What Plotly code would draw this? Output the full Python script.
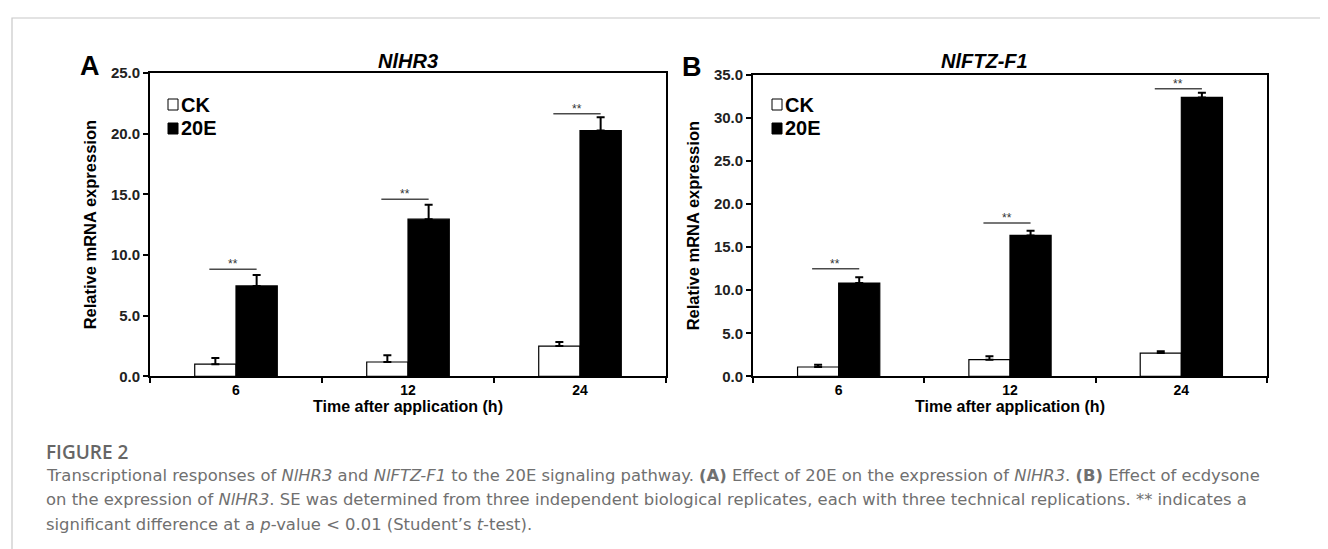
import plotly.graph_objects as go

W, H = 1328, 549

# ---------------- data ----------------
times = ["6", "12", "24"]

hr3_ck = [1.0, 1.18, 2.49]
hr3_ck_err = [0.5, 0.55, 0.33]
hr3_20e = [7.45, 12.95, 20.26]
hr3_20e_err = [0.9, 1.2, 1.1]
hr3_sig_y = [8.83, 14.6, 21.65]

ftz_ck = [1.08, 1.93, 2.7]
ftz_ck_err = [0.27, 0.39, 0.2]
ftz_20e = [10.83, 16.36, 32.4]
ftz_20e_err = [0.67, 0.54, 0.55]
ftz_sig_y = [12.5, 17.8, 33.4]

sig_label = "**"
series_names = ["CK", "20E"]
y_title = "Relative mRNA expression"
x_title = "Time after application (h)"

# ---------------- helpers ----------------
def px_x(p):
    return p / W

def px_y(p):
    return (H - p) / H

CHART_FONT = "Liberation Sans, Arial, sans-serif"

fig = go.Figure()

panels = [
    dict(ck=hr3_ck, ck_err=hr3_ck_err, e=hr3_20e, e_err=hr3_20e_err, sig=hr3_sig_y,
         xa="x", ya="y", yrange=[0, 25], dtick=5,
         dom_x=[142, 658], dom_y=[65, 368.3], leg_x=160),
    dict(ck=ftz_ck, ck_err=ftz_ck_err, e=ftz_20e, e_err=ftz_20e_err, sig=ftz_sig_y,
         xa="x2", ya="y2", yrange=[0, 35], dtick=5,
         dom_x=[745, 1259], dom_y=[67, 368.3], leg_x=764),
]

for i, p in enumerate(panels):
    fig.add_trace(go.Bar(
        x=times, y=p["ck"], name=series_names[0],
        marker=dict(color="white", line=dict(color="black", width=1.2)),
        error_y=dict(type="data", array=p["ck_err"], arrayminus=[0] * 3, symmetric=False,
                     color="black", thickness=2, width=4),
        xaxis=p["xa"], yaxis=p["ya"], showlegend=False,
    ))
    fig.add_trace(go.Bar(
        x=times, y=p["e"], name=series_names[1],
        marker=dict(color="black", line=dict(color="black", width=1.2)),
        error_y=dict(type="data", array=p["e_err"], arrayminus=[0] * 3, symmetric=False,
                     color="black", thickness=2, width=4),
        xaxis=p["xa"], yaxis=p["ya"], showlegend=False,
    ))
    # significance lines + stars
    for j, yv in enumerate(p["sig"]):
        fig.add_shape(type="line", xref=p["xa"], yref=p["ya"],
                      x0=j - 0.155, x1=j + 0.12, y0=yv, y1=yv,
                      line=dict(color="#4a4a4a", width=1.5))
        fig.add_annotation(xref=p["xa"], yref=p["ya"], x=j - 0.02, y=yv,
                           text=sig_label, showarrow=False, xanchor="center",
                           yanchor="bottom", yshift=-4,
                           font=dict(family=CHART_FONT, size=12, color="#333"))
    # legend (square swatch + label per series)
    for k, (nm, fc) in enumerate(zip(series_names, ["white", "black"])):
        yc = 96.5 + 24 * k
        fig.add_shape(type="rect", xref="paper", yref="paper",
                      x0=px_x(p["leg_x"]), x1=px_x(p["leg_x"] + 10),
                      y0=px_y(yc + 5.5), y1=px_y(yc - 5.5),
                      line=dict(color="black", width=1), fillcolor=fc)
        fig.add_annotation(xref="paper", yref="paper", x=px_x(p["leg_x"] + 11), y=px_y(yc),
                           xanchor="left", yanchor="middle",
                           text="<b>" + nm + "</b>", showarrow=False,
                           font=dict(family=CHART_FONT, size=20, color="black"))

axis_common = dict(
    showline=True, linecolor="black", linewidth=1.8, mirror=True,
    ticks="outside", ticklen=5, tickwidth=1.6, tickcolor="black",
    showgrid=False, zeroline=False, automargin=False,
)

layout = dict(
    width=W, height=H, margin=dict(l=0, r=0, t=0, b=0, pad=0, autoexpand=False),
    paper_bgcolor="white", plot_bgcolor="white",
    barmode="group", bargap=0.52, bargroupgap=0,
    showlegend=False,
)

for i, p in enumerate(panels):
    sfx = "" if i == 0 else "2"
    layout["xaxis" + sfx] = dict(
        axis_common, domain=[px_x(p["dom_x"][0]), px_x(p["dom_x"][1])],
        type="category", tickson="boundaries", anchor="y" + sfx,
        title=dict(text="<b>" + x_title + "</b>", standoff=0,
                   font=dict(family=CHART_FONT, size=16, color="black")),
        tickfont=dict(family=CHART_FONT, size=14, color="black"),
        tickprefix="<b>", ticksuffix="</b>",
    )
    layout["yaxis" + sfx] = dict(
        axis_common, domain=[px_y(p["dom_y"][1]), px_y(p["dom_y"][0])],
        range=p["yrange"], dtick=p["dtick"], tickformat=".1f", anchor="x" + sfx,
        tickprefix="<b>", ticksuffix="</b>",
        tickfont=dict(family=CHART_FONT, size=15, color="#222"),
        title=dict(text="<b>" + y_title + "</b>", standoff=10,
                   font=dict(family=CHART_FONT, size=16.5, color="black")),
    )

fig.update_layout(**layout)

# titles and panel letters
titles = [("NlHR3", 400, 53), ("NlFTZ-F1", 976, 53)]
for txt, xx, yy in titles:
    fig.add_annotation(xref="paper", yref="paper", x=px_x(xx), y=px_y(yy),
                       xanchor="center", yanchor="middle",
                       text="<b><i>" + txt + "</i></b>", showarrow=False,
                       font=dict(family=CHART_FONT, size=20, color="black"))
for txt, xx, yy in [("A", 82, 58), ("B", 684, 59)]:
    fig.add_annotation(xref="paper", yref="paper", x=px_x(xx), y=px_y(yy),
                       xanchor="center", yanchor="middle",
                       text="<b>" + txt + "</b>", showarrow=False,
                       font=dict(family=CHART_FONT, size=27, color="black"))

# caption
fig.add_annotation(xref="paper", yref="paper", x=px_x(36), y=px_y(444),
                   xanchor="left", yanchor="middle",
                   text="FIGURE 2", showarrow=False,
                   font=dict(family="Open Sans, sans-serif", size=19, color="#666666", weight=600))
cap_lines = [
    "Transcriptional responses of <i>NlHR3</i> and <i>NlFTZ-F1</i> to the 20E signaling pathway. "
    "<b>(A)</b> Effect of 20E on the expression of <i>NlHR3</i>. <b>(B)</b> Effect of ecdysone",
    "on the expression of <i>NlHR3</i>. SE was determined from three independent biological replicates, "
    "each with three technical replications. ** indicates a",
    "significant difference at a <i>p</i>-value &lt; 0.01 (Student\u2019s <i>t</i>-test).",
]
for k, line in enumerate(cap_lines):
    fig.add_annotation(xref="paper", yref="paper", x=px_x(36), y=px_y(467 + 24.5 * k),
                       xanchor="left", yanchor="middle", text=line, showarrow=False,
                       font=dict(family="DejaVu Sans, sans-serif", size=16.4, color="#707070"))

# outer frame
fig.add_shape(type="rect", xref="paper", yref="paper",
              x0=px_x(4), x1=px_x(1326.5), y0=-0.05, y1=px_y(10),
              line=dict(color="#c8c8c8", width=1.2), fillcolor="rgba(0,0,0,0)")

fig.write_html("out.html")
